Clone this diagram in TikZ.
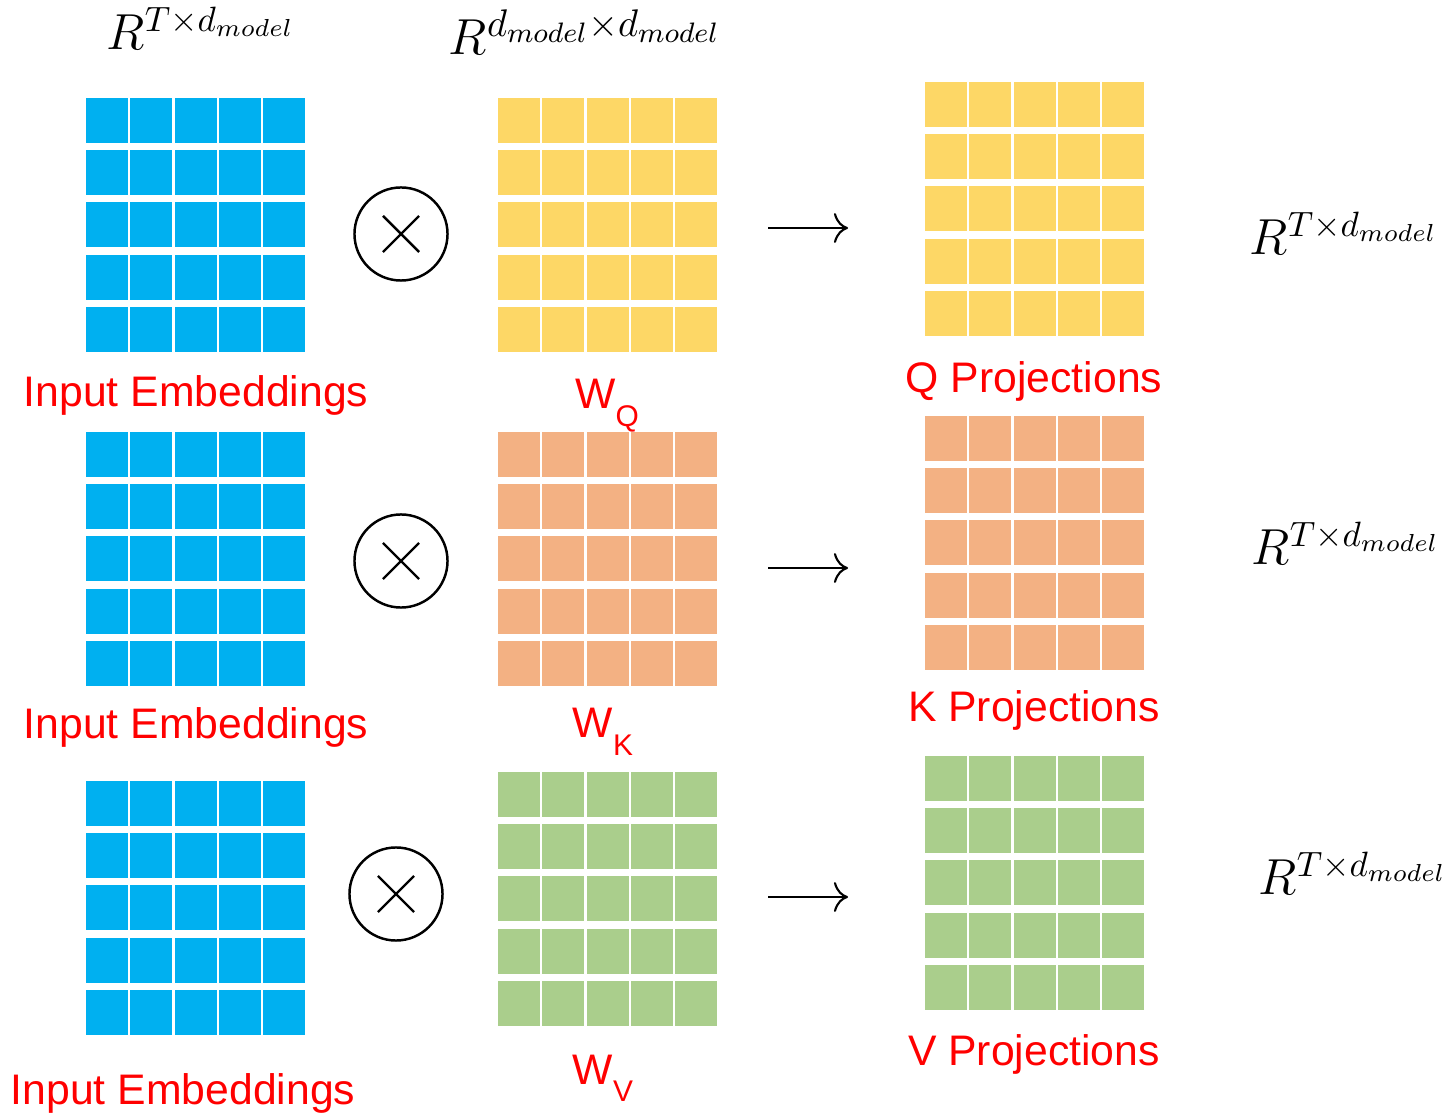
\documentclass[tikz,border=0pt]{standalone}
\usepackage{fontspec}
\setmainfont{Liberation Sans}
\usepackage{xcolor}
\usepackage{amsmath}
\usepackage{tikz}
\usetikzlibrary{calc}
\usetikzlibrary{positioning}
\usetikzlibrary{arrows.meta}

\definecolor{embblue}{HTML}{00B0F0}
\definecolor{qyellow}{HTML}{FDD766}
\definecolor{korange}{HTML}{F3B183}
\definecolor{vgreen}{HTML}{AACE8C}

% 5x5 block of cells: name, top left corner (x, y), fill colour
\newcommand{\cellgrid}[4]{%
    \foreach \i in {0,...,4}{%
        \foreach \j in {0,...,4}{%
            \fill[#4] ({#2+\i*44.25},{#3+\j*52.25}) rectangle ++(42,45);
        }
    }
    \node[gridbox, anchor=north west] (#1) at (#2,#3) {};
}

\begin{document}
\begin{tikzpicture}[x=0.01cm, y=-0.01cm]

                \tikzset{
                    gridbox/.style={inner sep=0pt, minimum width=2.19cm,
                        minimum height=2.54cm},
                    lbl/.style={text=red, inner sep=0pt,
                        font=\fontsize{12.15pt}{14pt}\selectfont},
                    dim/.style={inner sep=0pt, font=\Large},
                    mul/.style={draw, circle, line width=0.7pt,
                        minimum size=0.93cm, inner sep=0pt},
                    proj/.style={line width=0.6pt,
                        -{To[length=4pt, width=8.5pt]}}
                }

                \useasboundingbox (0,0) rectangle (1448,1113);

                % inputs, weights and projections
                \cellgrid{emb1}{86}{98}{embblue}
                \cellgrid{emb2}{86}{432}{embblue}
                \cellgrid{emb3}{86}{781}{embblue}
                \cellgrid{wq}{498}{98}{qyellow}
                \cellgrid{wk}{498}{432}{korange}
                \cellgrid{wv}{498}{772}{vgreen}
                \cellgrid{qp}{925}{82}{qyellow}
                \cellgrid{kp}{925}{416}{korange}
                \cellgrid{vp}{925}{756}{vgreen}

                % multiplication signs
                \node[mul] (mul1) at (401,234) {};
                \node[mul] (mul2) at (401,561) {};
                \node[mul] (mul3) at (396,894) {};
                \foreach \m in {mul1,mul2,mul3}{
                    \draw[line width=0.7pt]
                        ([shift={(-0.18cm,-0.18cm)}]\m.center) --
                        ([shift={(0.18cm,0.18cm)}]\m.center);
                    \draw[line width=0.7pt]
                        ([shift={(-0.18cm,0.18cm)}]\m.center) --
                        ([shift={(0.18cm,-0.18cm)}]\m.center);
                }

                % arrows
                \coordinate (a1) at (768,228);
                \coordinate (b1) at (848,228);
                \coordinate (a2) at (768,568);
                \coordinate (b2) at (848,568);
                \coordinate (a3) at (768,897);
                \coordinate (b3) at (848,897);
                \draw[proj] (a1) -- (b1);
                \draw[proj] (a2) -- (b2);
                \draw[proj] (a3) -- (b3);

                % labels
                \node[lbl, anchor=base] (embtxt1) at (196,407) {Input Embeddings};
                \node[lbl, anchor=base] (embtxt2) at (196,739) {Input Embeddings};
                \node[lbl, anchor=base] (embtxt3) at (183,1104) {Input Embeddings};
                \node[lbl, anchor=base] (wqtxt) at (607,409)
                    {W\raisebox{-5pt}{\fontsize{8.5pt}{10pt}\selectfont Q}};
                \node[lbl, anchor=base] (wktxt) at (603,738)
                    {W\raisebox{-5pt}{\fontsize{8.5pt}{10pt}\selectfont K}};
                \node[lbl, anchor=base] (wvtxt) at (603,1084)
                    {W\raisebox{-5pt}{\fontsize{8.5pt}{10pt}\selectfont V}};
                \node[lbl, anchor=base] (qtxt) at (1034,393) {Q Projections};
                \node[lbl, anchor=base] (ktxt) at (1034,722) {K Projections};
                \node[lbl, anchor=base] (vtxt) at (1034,1065) {V Projections};

                % sizes
                \node[dim, anchor=base] (dimemb) at (201,50) {$R^{T\times d_{model}}$};
                \node[dim, anchor=base, font=\fontsize{15.8pt}{18pt}\selectfont]
                    (dimw) at (585,55) {$R^{d_{model}\times d_{model}}$};
                \node[dim, anchor=base] (dimq) at (1344,255) {$R^{T\times d_{model}}$};
                \node[dim, anchor=base] (dimk) at (1346,565) {$R^{T\times d_{model}}$};
                \node[dim, anchor=base] (dimv) at (1353,895) {$R^{T\times d_{model}}$};

                \end{tikzpicture}
\end{document}
